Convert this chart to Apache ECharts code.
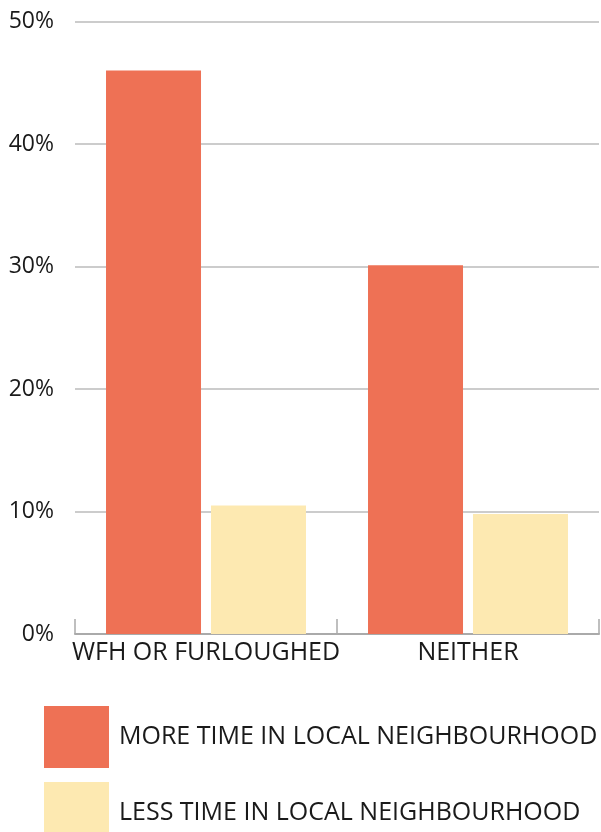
<!DOCTYPE html>
<html>
<head>
<meta charset="utf-8">
<script src="https://cdn.jsdelivr.net/npm/echarts@6/dist/echarts.min.js"></script>
<style>html,body{margin:0;padding:0;background:#fff}#c{width:601px;height:832px}</style>
</head>
<body>
<div id="c"></div>
<script>
const categories = ['WFH OR FURLOUGHED', 'NEITHER'];
const moreTime = [46, 30.1];
const lessTime = [10.5, 9.8];
const seriesNames = ['MORE TIME IN LOCAL NEIGHBOURHOOD', 'LESS TIME IN LOCAL NEIGHBOURHOOD'];
const yTicks = [0, 10, 20, 30, 40, 50];

const FONT = 'Open Sans';
const chart = echarts.init(document.getElementById('c'), null, {renderer: 'canvas'});
chart.setOption({
  animation: false,
  textStyle: {fontFamily: FONT},
  grid: {left: 75, right: 2, top: 21.5, bottom: 198, containLabel: false},
  legend: {
    orient: 'vertical', left: 44, top: 706, height: 300, padding: 0,
    itemWidth: 65, itemHeight: 62, itemGap: 14,
    icon: 'rect',
    textStyle: {fontFamily: FONT, fontSize: 25, color: '#1a1a1a', padding: [0, 0, 0, 5]},
    data: seriesNames
  },
  xAxis: {
    type: 'category', data: categories,
    axisLine: {lineStyle: {color: '#aaa', width: 2}},
    axisTick: {show: true, inside: true, length: 15, interval: 0, lineStyle: {color: '#aaa', width: 1.5}},
    axisLabel: {fontFamily: FONT, fontSize: 25, color: '#1a1a1a', margin: 6, interval: 0}
  },
  yAxis: {
    type: 'value', min: yTicks[0], max: yTicks[yTicks.length - 1], interval: 10,
    axisLine: {show: false}, axisTick: {show: false},
    splitLine: {lineStyle: {color: '#bbb', width: 1.5}},
    axisLabel: {fontFamily: FONT, fontSize: 23, color: '#1a1a1a', margin: 21, formatter: '{value}%'}
  },
  series: [
    {name: seriesNames[0], type: 'bar', data: moreTime, barWidth: 95, barGap: '10.5%', itemStyle: {color: '#EE7155'}},
    {name: seriesNames[1], type: 'bar', data: lessTime, barWidth: 95, barGap: '10.5%', itemStyle: {color: '#FDE9B1'}}
  ]
});
</script>
</body>
</html>
